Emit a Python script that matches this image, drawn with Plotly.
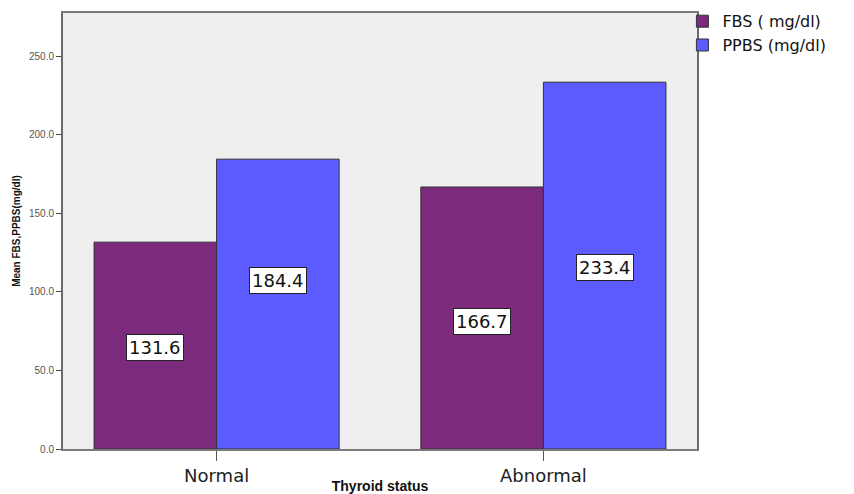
import plotly.graph_objects as go

categories = ["Normal", "Abnormal"]
fbs_values = [131.6, 166.7]
ppbs_values = [184.4, 233.4]
series_names = ["FBS ( mg/dl)", "PPBS (mg/dl)"]
label_y = [[64.5, 81.0], [107.0, 115.5]]  # vertical placement of the boxed value labels
y_tick_values = [0, 50, 100, 150, 200, 250]
y_tick_labels = ["0.0", "50.0", "100.0", "150.0", "200.0", "250.0"]

colors = ["#7b2a7c", "#5b5bff"]
bargap = 0.25

fig = go.Figure()
for name, vals, col in zip(series_names, [fbs_values, ppbs_values], colors):
    fig.add_trace(go.Bar(
        x=categories, y=vals, name=name,
        marker=dict(color=col, line=dict(color="#333333", width=1)),
    ))

bar_w = (1 - bargap) / 2
annotations = []
for s, vals in enumerate([fbs_values, ppbs_values]):
    off = -bar_w / 2 if s == 0 else bar_w / 2
    for i, v in enumerate(vals):
        annotations.append(dict(
            x=i + off, y=label_y[s][i], xref="x", yref="y",
            text=f"{v:.1f}", showarrow=False,
            font=dict(family="DejaVu Sans", size=18, color="#111111"),
            bgcolor="white", bordercolor="#222222", borderwidth=1, borderpad=2,
        ))

# page body has an 8px default margin, so the figure is sized to fit the window
fig.update_layout(
    width=846, height=486,
    margin=dict(l=55, r=157, t=5, b=45, autoexpand=False),
    paper_bgcolor="white", plot_bgcolor="#efefef",
    barmode="group", bargap=bargap, bargroupgap=0,
    showlegend=True,
    legend=dict(x=0.977, y=1.02, xanchor="left", yanchor="top",
                font=dict(family="DejaVu Sans", size=16, color="#111111"),
                bgcolor="rgba(0,0,0,0)", tracegroupgap=0, itemwidth=30),
    annotations=annotations,
)
fig.update_xaxes(
    type="category", range=[-0.47, 1.47], automargin=False,
    showline=True, linecolor="#7a7a7a", linewidth=1.5, mirror=True,
    ticks="outside", ticklen=10, tickcolor="#555555",
    tickfont=dict(family="DejaVu Sans", size=18, color="#222222"),
    showgrid=False,
    title=dict(text="<b>Thyroid status</b>", standoff=24,
               font=dict(family="Liberation Sans", size=14, color="#111111")),
)
fig.update_yaxes(
    range=[0, 277.4], automargin=False,
    tickvals=y_tick_values, ticktext=y_tick_labels,
    showline=True, linecolor="#6a6a6a", linewidth=2, mirror=True,
    ticks="outside", ticklen=5, tickcolor="#444444",
    tickfont=dict(family="Liberation Sans", size=10, color="#555555"),
    showgrid=False, zeroline=False,
    title=dict(text="<b>Mean FBS,PPBS(mg/dl)</b>", standoff=6,
               font=dict(family="Liberation Sans", size=10, color="#111111")),
)

fig.write_html("out.html")
